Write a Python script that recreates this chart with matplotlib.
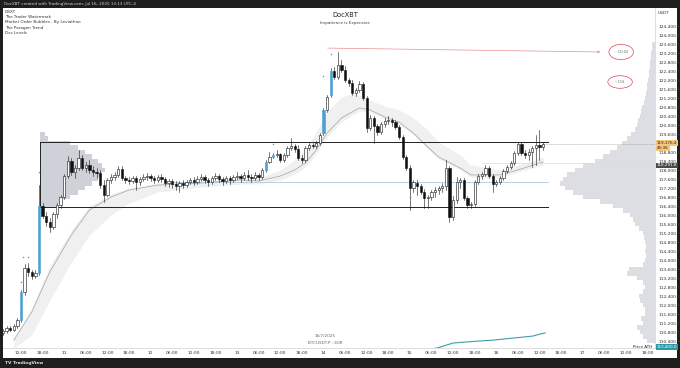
import matplotlib.pyplot as plt
from matplotlib.patches import Rectangle, Ellipse
import numpy as np

W, H = 680, 368

# hourly candles, hours counted from Jul 10 00:00
hours = list(range(7, 158))
opens = [110760, 110840, 110980, 110890, 111070, 111330, 112580, 113640, 113470, 113290,
         113420, 116400, 115960, 115690, 115470, 116040, 116440, 116800, 117730, 118400,
         117910, 118090, 118530, 118090, 118220, 118000, 117910, 117870, 117330, 116890,
         117560, 117690, 117780, 118040, 117640, 117560, 117510, 117640, 117470, 117600,
         117690, 117730, 117640, 117560, 117690, 117600, 117420, 117510, 117380, 117290,
         117420, 117330, 117470, 117560, 117470, 117600, 117690, 117560, 117470, 117640,
         117730, 117600, 117510, 117640, 117560, 117690, 117730, 117640, 117780, 117690,
         117640, 117780, 117690, 118000, 118360, 118580, 118670, 118710, 118440, 118670,
         118980, 119070, 118930, 118530, 118440, 118980, 119110, 119070, 119200, 119640,
         120670, 121330, 122400, 122130, 122670, 122440, 122000, 121870, 121420, 121560,
         121820, 121200, 119870, 120310, 119960, 119690, 120040, 120180, 120220, 120130,
         119910, 119470, 118580, 118090, 117200, 117420, 117290, 117020, 116760, 116800,
         117020, 117110, 117200, 117290, 118090, 115910, 116670, 117470, 117560, 116760,
         116440, 116490, 117470, 117730, 117820, 118090, 117730, 117380, 117470, 117640,
         117960, 118130, 118310, 118760, 119160, 118760, 118670, 118800, 118980, 119110,
         119020]
closes = [110840, 110980, 110890, 111070, 111330, 112580, 113640, 113470, 113290, 113420,
          116400, 115960, 115690, 115470, 116040, 116440, 116800, 117730, 118400, 117910,
          118090, 118530, 118090, 118220, 118000, 117910, 117870, 117330, 116890, 117560,
          117690, 117780, 118040, 117640, 117560, 117510, 117640, 117470, 117600, 117690,
          117730, 117640, 117560, 117690, 117600, 117420, 117510, 117380, 117290, 117420,
          117330, 117470, 117560, 117470, 117600, 117690, 117560, 117470, 117640, 117730,
          117600, 117510, 117640, 117560, 117690, 117730, 117640, 117780, 117690, 117640,
          117780, 117690, 118000, 118360, 118580, 118670, 118710, 118440, 118670, 118980,
          119070, 118930, 118530, 118440, 118980, 119110, 119070, 119200, 119560, 120670,
          121240, 122400, 122130, 122670, 122440, 122000, 121870, 121420, 121560, 121820,
          121200, 119870, 120310, 119960, 119690, 120040, 120180, 120220, 120130, 119910,
          119470, 118580, 118090, 117200, 117470, 117290, 117020, 116760, 116800, 117020,
          117110, 117200, 117290, 118090, 115910, 116670, 117470, 117560, 116760, 116440,
          116490, 117470, 117730, 117820, 118090, 117730, 117380, 117470, 117640, 117960,
          118130, 118310, 118760, 119160, 118760, 118670, 118800, 118980, 119110, 119020,
          119176]
highs = [110930, 111070, 111070, 111160, 111420, 112670, 113820, 113870, 113560, 113560,
         117330, 116530, 116130, 115870, 116130, 116530, 116890, 117820, 118620, 118530,
         118220, 118890, 118670, 118360, 118440, 118180, 118090, 118000, 117560, 117640,
         117820, 117910, 118180, 118180, 117730, 117690, 117730, 117730, 117690, 117820,
         117870, 117820, 117730, 117780, 117820, 117690, 117600, 117600, 117510, 117510,
         117560, 117560, 117640, 117690, 117730, 117820, 117780, 117640, 117730, 117870,
         117820, 117690, 117730, 117730, 117780, 117910, 117820, 117910, 118000, 117820,
         117910, 117870, 118090, 118440, 118800, 118760, 118890, 118760, 118760, 119070,
         119420, 119160, 119110, 118670, 119070, 119200, 119200, 119290, 119640, 120760,
         121330, 122530, 122580, 123240, 122890, 122620, 122090, 122000, 121640, 121960,
         121910, 121290, 120440, 120400, 120040, 120130, 120310, 120400, 120310, 120220,
         120000, 119560, 118670, 118220, 117560, 117560, 117380, 117160, 116890, 117110,
         117240, 117290, 117420, 118440, 118180, 116840, 117690, 117640, 117640, 116840,
         116580, 117560, 117820, 117910, 118220, 118180, 117820, 117560, 117730, 118040,
         118220, 118400, 118840, 119240, 119240, 118890, 118930, 119070, 119560, 119780,
         119240]
lows = [110670, 110760, 110840, 110840, 110980, 111240, 112440, 113290, 113160, 113200,
        113330, 115870, 115510, 115240, 115380, 115870, 116310, 116710, 117640, 117780,
        117640, 118000, 118000, 117910, 117870, 117730, 117640, 117200, 116580, 116840,
        117420, 117560, 117690, 117560, 117420, 117380, 117420, 117110, 117330, 117510,
        117560, 117510, 117420, 117470, 117470, 117290, 117240, 117200, 117110, 117020,
        117200, 117240, 117380, 117330, 117380, 117510, 117420, 117290, 117380, 117560,
        117470, 117330, 117420, 117380, 117470, 117600, 117470, 117560, 117560, 117470,
        117560, 117560, 117600, 117910, 118310, 118530, 118580, 118360, 118360, 118580,
        118890, 118800, 118440, 118310, 118360, 118890, 118980, 118980, 119110, 119560,
        120580, 121240, 122040, 122040, 122360, 121910, 121730, 121330, 121290, 121470,
        121110, 119690, 119780, 119200, 119560, 119600, 119910, 120040, 119960, 119820,
        119380, 118490, 118000, 116220, 117020, 116890, 116930, 116310, 116310, 116670,
        116800, 116930, 117020, 117110, 115690, 115780, 116530, 117200, 116670, 116310,
        116310, 116400, 117380, 117600, 117730, 117640, 117020, 117290, 117380, 117560,
        117870, 118040, 118220, 118670, 118670, 118530, 118440, 118130, 118220, 118440,
        118890]
blue_bars = [12, 17, 80, 82, 96, 98]

# market order bubbles
bubble_h = [12, 12.5, 14, 17, 82, 96, 98]
bubble_p = [112760, 113870, 113870, 117640, 118890, 121910, 122890]
red_bubble_h = [120]
red_bubble_p = [116800]

# paragon trend ribbon
trend_h = [10, 15, 20, 26, 31, 37, 42, 50, 62, 73, 78, 84, 88, 91, 94, 97, 101, 104, 106,
           109, 113, 117, 121, 125, 128, 134, 137, 145, 150, 157]
trend_mid = [110440, 111690, 113470, 115110, 116220, 116800, 117110, 117330, 117420, 117560,
             117510, 117730, 118000, 118310, 118890, 119640, 120310, 120580, 120760, 120670,
             120360, 120130, 119640, 119020, 118580, 118090, 117780, 117780, 118000, 118360]
trend_up = [110530, 111870, 113730, 115330, 116400, 116930, 117200, 117420, 117510, 117640,
            117640, 118000, 118440, 118890, 119690, 120580, 121240, 121380, 121330, 121110,
            120840, 120670, 120310, 119780, 119240, 118670, 118220, 118000, 118220, 118580]
trend_lo = [110090, 110670, 112220, 113910, 115110, 116000, 116530, 117020, 117240, 117380,
            117380, 117560, 117820, 118130, 118710, 119470, 120130, 120440, 120620, 120580,
            120270, 120040, 119560, 118930, 118490, 118000, 117690, 117640, 117910, 118220]

# teal ATH line
ath_h = [121, 127.6, 132, 135.9, 143.1, 148.7, 154.2, 156.2, 157.6]
ath_p = [109950, 110090, 110310, 110360, 110440, 110530, 110620, 110710, 110760]

# visible range volume profile (right side), width in px
vp_levels = list(range(110400, 123800, 200))
vp_width = [8, 12, 15, 18, 12, 14, 10, 10, 12, 15, 16, 12, 10, 12, 18, 28, 26, 12, 10, 9,
            10, 9, 10, 11, 12, 16, 20, 22, 25, 32, 42, 55, 72, 82, 90, 95, 92, 88, 80, 72,
            60, 52, 45, 38, 33, 28, 24, 20, 18, 17, 15, 14, 13, 11, 10, 9, 8, 8, 7, 6,
            6, 5, 5, 4, 4, 3, 3]

# fixed range profile (left side), width in px
fr_levels = list(range(116400, 119800, 200))
fr_width = [18, 22, 30, 38, 45, 52, 58, 62, 65, 62, 58, 52, 45, 38, 30, 8, 5]

box_top, box_bot, blue_lvl, poc_lvl = 119244, 116356, 117467, 118292

fig = plt.figure(figsize=(W / 100, H / 100), dpi=100, facecolor='#1e1e1e')
fig.patches.append(Rectangle((3 / W, 10 / H), 674 / W, 350 / H, transform=fig.transFigure,
                             facecolor='white', edgecolor='none', zorder=-10))
ax = fig.add_axes([3 / W, 20 / H, 652 / W, 340 / H])
ax.set_zorder(5)
ax.set_facecolor('white')
ax.set_xlim(7, 188.1)
ax.set_ylim(110089, 125200)
px_h = 652 / (188.1 - 7)  # px per hour

# profiles
ax.barh(vp_levels, [w / px_h for w in vp_width], left=[188.1 - w / px_h for w in vp_width],
        height=200, color='#dcdee3', edgecolor='none', zorder=1)
ax.barh(fr_levels, [w / px_h for w in fr_width], left=17.3, height=200, color='#ced1d7',
        edgecolor='none', zorder=1)

# ribbon
ax.fill_between(trend_h, trend_lo, trend_up, color='#f0f0f0', lw=0, zorder=2)
ax.plot(trend_h, trend_mid, color='#a3a3a3', lw=0.5, zorder=2)

# levels
ax.plot([17.3, 158.4], [box_top, box_top], color='#222222', lw=0.7, zorder=3)
ax.plot([17.3, 158.4], [box_bot, box_bot], color='#222222', lw=0.7, zorder=3)
ax.plot([17.3, 17.3], [box_bot, box_top], color='#222222', lw=0.7, zorder=3)
ax.plot([54, 158.4], [blue_lvl, blue_lvl], color='#a9cbe8', lw=0.6, zorder=3)
ax.plot([140, 188.1], [poc_lvl, poc_lvl], color='#dcdcdc', lw=0.5, zorder=3)
ax.plot([157.5, 188.1], [closes[-1], closes[-1]], color='#888888', lw=0.4, ls=(0, (1, 1)), zorder=3)

# candles
for h, o, hi, lo, c in zip(hours, opens, highs, lows, closes):
    ax.plot([h, h], [lo, hi], color='#111111', lw=0.4, zorder=4)
    if h in blue_bars:
        fc, ec = '#4a9fd4', '#4a9fd4'
    elif c >= o:
        fc, ec = 'white', '#111111'
    else:
        fc, ec = '#111111', '#111111'
    ax.bar(h, max(abs(c - o), 20), bottom=min(o, c), width=0.62, color=fc, edgecolor=ec,
           lw=0.4, zorder=5)

ax.scatter(bubble_h, [p + 250 for p in bubble_p], s=1.2, color='#4a9fd4', zorder=6, lw=0)
ax.scatter(red_bubble_h, red_bubble_p, s=1.2, color='#e0455a', zorder=6, lw=0)
ax.plot(ath_h, ath_p, color='#3a9fa8', lw=0.8, zorder=4)

# red target arrow and circles
ax.annotate('', xy=(173.7, 123244), xytext=(96.4, 123420),
            arrowprops=dict(arrowstyle='->', color='#f08a96', lw=0.5, mutation_scale=4))
ax.add_patch(Ellipse((178.7, 123244), 6.8, 680, fill=False, ec='#e0455a', lw=0.5))
ax.add_patch(Ellipse((178.4, 121911), 6.8, 560, fill=False, ec='#e0455a', lw=0.5))
ax.text(178.7, 123244, '~ 123,200', fontsize=1.8, ha='center', va='center', color='#555555')
ax.text(178.4, 121911, '~ 122k', fontsize=1.8, ha='center', va='center', color='#555555')

# axes
yt = [v for v in range(110400, 124800, 400) if v != 119200]
ax.set_yticks(yt)
ax.set_yticklabels(['{:,.1f}'.format(v) for v in yt])
ax.yaxis.tick_right()
xt = list(range(12, 188, 6))
ax.set_xticks(xt)
ax.set_xticklabels([str(10 + t // 24) if t % 24 == 0 else '{:02d}:00'.format(t % 24) for t in xt])
ax.tick_params(length=0, labelsize=3.2, colors='#333333', pad=2.5)
for s in ['top', 'left']:
    ax.spines[s].set_visible(False)
for s in ['right', 'bottom']:
    ax.spines[s].set_color('#d0d0d0')
    ax.spines[s].set_linewidth(0.5)


def ftext(x, y, s, **kw):
    fig.text(x / W, 1 - y / H, s, zorder=10, **kw)


ftext(4, 4, 'DocXBT created with TradingView.com, Jul 16, 2025 13:13 UTC-4', fontsize=3,
      color='#d0d0d0', va='center')
for i, s in enumerate(['DBXT', 'The Trader Watermark', 'Market Order Bubbles - By Leviathan',
                       'The Paragon Trend', 'Dxc Levels']):
    ftext(5, 12 + i * 5.2, s, fontsize=3, color='#333333', va='center')
ftext(345, 15, 'DocXBT', fontsize=4.8, color='#222222', ha='center', va='center')
ftext(345, 23, 'Impatience is Expensive', fontsize=3, color='#444444', ha='center', va='center')
ftext(325, 336, '16/7/2025', fontsize=3, color='#666666', ha='center', va='center')
ftext(325, 343, 'BTCUSDT.P : 60R', fontsize=3, color='#666666', ha='center', va='center')
ftext(658, 13, 'USDT', fontsize=3.2, color='#333333', va='center')
ftext(5, 363, 'TV TradingView', fontsize=3.2, color='#e0e0e0', va='center', weight='bold')

# price labels on axis
ftext(657, 143, '119,176.4', fontsize=3, color='#222222', va='center',
      bbox=dict(boxstyle='square,pad=0.2', fc='#f7c57a', ec='none'))
ftext(657, 148, '45:36', fontsize=3, color='#222222', va='center',
      bbox=dict(boxstyle='square,pad=0.2', fc='#f7c57a', ec='none'))
ftext(657, 165.5, '118,291.8', fontsize=3, color='white', va='center',
      bbox=dict(boxstyle='square,pad=0.2', fc='#4a4a4a', ec='none'))
ftext(652, 347, 'Price ATH', fontsize=3, color='#222222', va='center', ha='right')
ftext(657, 347, '110,400.0', fontsize=3, color='white', va='center',
      bbox=dict(boxstyle='square,pad=0.2', fc='#2a9aa6', ec='none'))

fig.savefig('out.png', dpi=100, facecolor=fig.get_facecolor())
